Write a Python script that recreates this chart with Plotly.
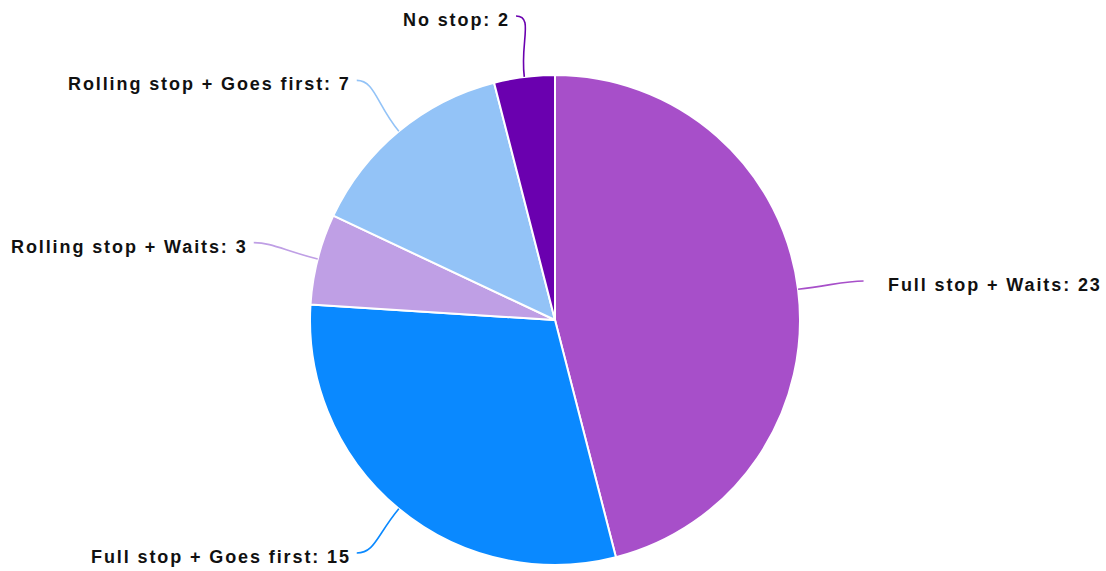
import math
import plotly.graph_objects as go

# Outcome categories at the stop sign and how many drivers fell in each
categories = [
    "Full stop + Waits",
    "Full stop + Goes first",
    "Rolling stop + Waits",
    "Rolling stop + Goes first",
    "No stop",
]
counts = [23, 15, 3, 7, 2]
colors = ["#A74FC9", "#0A89FF", "#BF9FE5", "#93C3F7", "#6A00AF"]

W, H = 1106, 571
CX, CY, R = 555, 320, 245          # pie centre and radius in pixels
R_LABEL = 311                       # radius where leader lines end
EDGE = 16                           # keep label anchors this far from top/bottom


def px(x):
    return x / W


def py(y):
    return 1 - y / H


fig = go.Figure(
    go.Pie(
        labels=categories,
        values=counts,
        marker=dict(colors=colors, line=dict(color="white", width=2)),
        sort=False,
        direction="clockwise",
        rotation=0,
        textinfo="none",
        hoverinfo="label+value",
        domain=dict(x=[px(CX - R), px(CX + R)], y=[py(CY + R), py(CY - R)]),
    )
)

# Leader lines and outside labels placed from each slice's mid-angle
total = sum(counts)
cum = 0
shapes, annotations = [], []
for name, val, col in zip(categories, counts, colors):
    theta = 2 * math.pi * (cum + val / 2) / total
    cum += val
    s, c = math.sin(theta), math.cos(theta)
    x0, y0 = CX + R * s, CY - R * c
    x3, y3 = CX + R_LABEL * s, CY - R_LABEL * c
    y3 = min(max(y3, EDGE), H - EDGE - 2)
    right = s >= 0
    x1, y1 = CX + (R + 35) * s, CY - (R + 35) * c
    x2, y2 = x3 + (-18 if right else 18), y3
    path = (
        f"M {px(x0)},{py(y0)} C {px(x1)},{py(y1)} "
        f"{px(x2)},{py(y2)} {px(x3)},{py(y3)}"
    )
    shapes.append(dict(type="path", xref="paper", yref="paper", path=path,
                       line=dict(color=col, width=1.6)))
    gap = 22 if right else 4
    annotations.append(dict(
        xref="paper", yref="paper",
        x=px(x3 + (gap if right else -gap)), y=py(y3 + 4),
        text=f'<span style="letter-spacing:1.9px"><b>{name}: {val}</b></span>',
        showarrow=False,
        xanchor="left" if right else "right",
        yanchor="middle",
        font=dict(family="Liberation Sans, Arial, sans-serif", size=18,
                  color="#111111"),
    ))

fig.update_layout(
    width=W, height=H,
    margin=dict(l=0, r=0, t=0, b=0),
    paper_bgcolor="white",
    plot_bgcolor="white",
    showlegend=False,
    shapes=shapes,
    annotations=annotations,
)

fig.write_html("out.html")
